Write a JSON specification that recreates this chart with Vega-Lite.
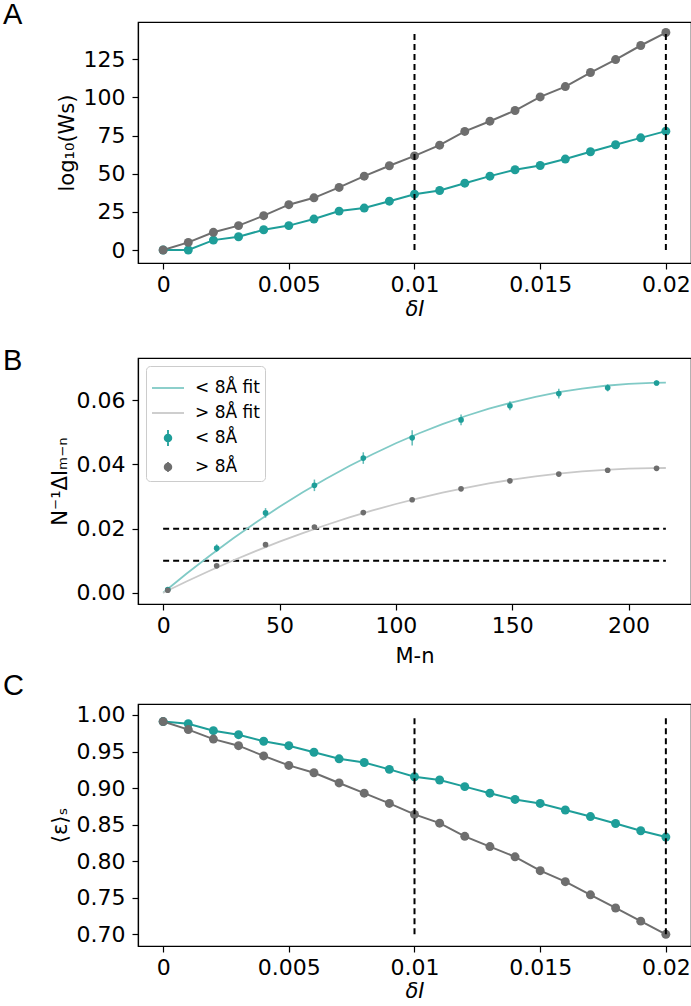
{
  "$schema": "https://vega.github.io/schema/vega-lite/v6.json",
  "background": "white",
  "padding": {"left": 2, "top": 0, "right": 0, "bottom": 0},
  "config": {
    "font": "DejaVu Sans",
    "view": {"stroke": "black", "strokeWidth": 1.2},
    "axis": {"grid": false, "labelFontSize": 22, "titleFontSize": 21, "titleFontWeight": "normal", "labelColor": "black", "titleColor": "black", "tickColor": "black", "domainColor": "black", "tickSize": 6, "tickWidth": 1.2, "domainWidth": 1.2, "titlePadding": 6},
    "axisX": {"labelPadding": 5},
    "axisY": {"labelPadding": 7},
    "title": {"fontSize": 29, "font": "Liberation Sans", "fontWeight": "normal", "anchor": "start", "frame": "group", "color": "black"}
  },
  "resolve": {
    "scale": {"color": "independent", "stroke": "independent", "shape": "independent"},
    "legend": {"color": "independent", "stroke": "independent", "shape": "independent"}
  },
  "datasets": {
    "A": [
      {"grp": "< 8Å", "dI": 0.000, "v": 0}, {"grp": "< 8Å", "dI": 0.001, "v": 0}, {"grp": "< 8Å", "dI": 0.002, "v": 6.5}, {"grp": "< 8Å", "dI": 0.003, "v": 8.7}, {"grp": "< 8Å", "dI": 0.004, "v": 13.3}, {"grp": "< 8Å", "dI": 0.005, "v": 16}, {"grp": "< 8Å", "dI": 0.006, "v": 20.3}, {"grp": "< 8Å", "dI": 0.007, "v": 25.5}, {"grp": "< 8Å", "dI": 0.008, "v": 27.5}, {"grp": "< 8Å", "dI": 0.009, "v": 32}, {"grp": "< 8Å", "dI": 0.010, "v": 36.6}, {"grp": "< 8Å", "dI": 0.011, "v": 39}, {"grp": "< 8Å", "dI": 0.012, "v": 43.8}, {"grp": "< 8Å", "dI": 0.013, "v": 48.4}, {"grp": "< 8Å", "dI": 0.014, "v": 52.6}, {"grp": "< 8Å", "dI": 0.015, "v": 55.4}, {"grp": "< 8Å", "dI": 0.016, "v": 59.6}, {"grp": "< 8Å", "dI": 0.017, "v": 64.4}, {"grp": "< 8Å", "dI": 0.018, "v": 69}, {"grp": "< 8Å", "dI": 0.019, "v": 73.5}, {"grp": "< 8Å", "dI": 0.020, "v": 77.9},
      {"grp": "> 8Å", "dI": 0.000, "v": 0}, {"grp": "> 8Å", "dI": 0.001, "v": 5}, {"grp": "> 8Å", "dI": 0.002, "v": 11.6}, {"grp": "> 8Å", "dI": 0.003, "v": 16}, {"grp": "> 8Å", "dI": 0.004, "v": 22.5}, {"grp": "> 8Å", "dI": 0.005, "v": 29.7}, {"grp": "> 8Å", "dI": 0.006, "v": 34.2}, {"grp": "> 8Å", "dI": 0.007, "v": 41}, {"grp": "> 8Å", "dI": 0.008, "v": 48.4}, {"grp": "> 8Å", "dI": 0.009, "v": 55.2}, {"grp": "> 8Å", "dI": 0.010, "v": 61.7}, {"grp": "> 8Å", "dI": 0.011, "v": 68.7}, {"grp": "> 8Å", "dI": 0.012, "v": 77.7}, {"grp": "> 8Å", "dI": 0.013, "v": 84.4}, {"grp": "> 8Å", "dI": 0.014, "v": 91.4}, {"grp": "> 8Å", "dI": 0.015, "v": 100.3}, {"grp": "> 8Å", "dI": 0.016, "v": 107.1}, {"grp": "> 8Å", "dI": 0.017, "v": 116.3}, {"grp": "> 8Å", "dI": 0.018, "v": 124.8}, {"grp": "> 8Å", "dI": 0.019, "v": 134}, {"grp": "> 8Å", "dI": 0.020, "v": 142.5}
    ],
    "A_dash": [{"dI": 0.01, "lo": 0, "hi": 142.5}, {"dI": 0.02, "lo": 0, "hi": 142.5}],
    "C": [
      {"grp": "< 8Å", "dI": 0.000, "v": 0.991}, {"grp": "< 8Å", "dI": 0.001, "v": 0.988}, {"grp": "< 8Å", "dI": 0.002, "v": 0.9785}, {"grp": "< 8Å", "dI": 0.003, "v": 0.973}, {"grp": "< 8Å", "dI": 0.004, "v": 0.964}, {"grp": "< 8Å", "dI": 0.005, "v": 0.958}, {"grp": "< 8Å", "dI": 0.006, "v": 0.949}, {"grp": "< 8Å", "dI": 0.007, "v": 0.94}, {"grp": "< 8Å", "dI": 0.008, "v": 0.935}, {"grp": "< 8Å", "dI": 0.009, "v": 0.9256}, {"grp": "< 8Å", "dI": 0.010, "v": 0.9155}, {"grp": "< 8Å", "dI": 0.011, "v": 0.911}, {"grp": "< 8Å", "dI": 0.012, "v": 0.902}, {"grp": "< 8Å", "dI": 0.013, "v": 0.893}, {"grp": "< 8Å", "dI": 0.014, "v": 0.8845}, {"grp": "< 8Å", "dI": 0.015, "v": 0.879}, {"grp": "< 8Å", "dI": 0.016, "v": 0.87}, {"grp": "< 8Å", "dI": 0.017, "v": 0.861}, {"grp": "< 8Å", "dI": 0.018, "v": 0.8516}, {"grp": "< 8Å", "dI": 0.019, "v": 0.8416}, {"grp": "< 8Å", "dI": 0.020, "v": 0.833},
      {"grp": "> 8Å", "dI": 0.000, "v": 0.991}, {"grp": "> 8Å", "dI": 0.001, "v": 0.98}, {"grp": "> 8Å", "dI": 0.002, "v": 0.967}, {"grp": "> 8Å", "dI": 0.003, "v": 0.958}, {"grp": "> 8Å", "dI": 0.004, "v": 0.944}, {"grp": "> 8Å", "dI": 0.005, "v": 0.931}, {"grp": "> 8Å", "dI": 0.006, "v": 0.921}, {"grp": "> 8Å", "dI": 0.007, "v": 0.907}, {"grp": "> 8Å", "dI": 0.008, "v": 0.893}, {"grp": "> 8Å", "dI": 0.009, "v": 0.879}, {"grp": "> 8Å", "dI": 0.010, "v": 0.864}, {"grp": "> 8Å", "dI": 0.011, "v": 0.852}, {"grp": "> 8Å", "dI": 0.012, "v": 0.834}, {"grp": "> 8Å", "dI": 0.013, "v": 0.82}, {"grp": "> 8Å", "dI": 0.014, "v": 0.806}, {"grp": "> 8Å", "dI": 0.015, "v": 0.787}, {"grp": "> 8Å", "dI": 0.016, "v": 0.772}, {"grp": "> 8Å", "dI": 0.017, "v": 0.754}, {"grp": "> 8Å", "dI": 0.018, "v": 0.736}, {"grp": "> 8Å", "dI": 0.019, "v": 0.718}, {"grp": "> 8Å", "dI": 0.020, "v": 0.7}
    ],
    "C_dash": [{"dI": 0.01, "lo": 0.7, "hi": 1.0}, {"dI": 0.02, "lo": 0.7, "hi": 1.0}],
    "B_pts": [
      {"series": "< 8Å", "M": 2, "v": 0.001, "lo": 0.0004, "hi": 0.0016},
      {"series": "< 8Å", "M": 23, "v": 0.0139, "lo": 0.0127, "hi": 0.0151},
      {"series": "< 8Å", "M": 44, "v": 0.0249, "lo": 0.0234, "hi": 0.0264},
      {"series": "< 8Å", "M": 65, "v": 0.0335, "lo": 0.0317, "hi": 0.0353},
      {"series": "< 8Å", "M": 86, "v": 0.042, "lo": 0.0402, "hi": 0.0438},
      {"series": "< 8Å", "M": 107, "v": 0.0483, "lo": 0.0459, "hi": 0.0507},
      {"series": "< 8Å", "M": 128, "v": 0.0539, "lo": 0.0522, "hi": 0.0556},
      {"series": "< 8Å", "M": 149, "v": 0.0583, "lo": 0.0569, "hi": 0.0597},
      {"series": "< 8Å", "M": 170, "v": 0.0621, "lo": 0.0606, "hi": 0.0636},
      {"series": "< 8Å", "M": 191, "v": 0.0639, "lo": 0.0628, "hi": 0.065},
      {"series": "< 8Å", "M": 212, "v": 0.0654, "lo": 0.0646, "hi": 0.0662},
      {"series": "> 8Å", "M": 2, "v": 0.0008, "lo": 0.0004, "hi": 0.0012},
      {"series": "> 8Å", "M": 23, "v": 0.0084, "lo": 0.0079, "hi": 0.0089},
      {"series": "> 8Å", "M": 44, "v": 0.015, "lo": 0.0145, "hi": 0.0155},
      {"series": "> 8Å", "M": 65, "v": 0.0205, "lo": 0.0199, "hi": 0.0211},
      {"series": "> 8Å", "M": 86, "v": 0.025, "lo": 0.0244, "hi": 0.0256},
      {"series": "> 8Å", "M": 107, "v": 0.029, "lo": 0.0284, "hi": 0.0296},
      {"series": "> 8Å", "M": 128, "v": 0.0324, "lo": 0.0319, "hi": 0.0329},
      {"series": "> 8Å", "M": 149, "v": 0.0349, "lo": 0.0344, "hi": 0.0354},
      {"series": "> 8Å", "M": 170, "v": 0.037, "lo": 0.0365, "hi": 0.0375},
      {"series": "> 8Å", "M": 191, "v": 0.0382, "lo": 0.0378, "hi": 0.0386},
      {"series": "> 8Å", "M": 212, "v": 0.0388, "lo": 0.0384, "hi": 0.0392}
    ],
    "B_fit": [
      {"series": "< 8Å fit", "M": 0, "v": 0}, {"series": "< 8Å fit", "M": 10, "v": 0.00593}, {"series": "< 8Å fit", "M": 20, "v": 0.01157}, {"series": "< 8Å fit", "M": 30, "v": 0.01693}, {"series": "< 8Å fit", "M": 40, "v": 0.02201}, {"series": "< 8Å fit", "M": 50, "v": 0.02682}, {"series": "< 8Å fit", "M": 60, "v": 0.03134}, {"series": "< 8Å fit", "M": 70, "v": 0.03558}, {"series": "< 8Å fit", "M": 80, "v": 0.03954}, {"series": "< 8Å fit", "M": 90, "v": 0.04321}, {"series": "< 8Å fit", "M": 100, "v": 0.04661}, {"series": "< 8Å fit", "M": 110, "v": 0.04973}, {"series": "< 8Å fit", "M": 120, "v": 0.05256}, {"series": "< 8Å fit", "M": 130, "v": 0.05512}, {"series": "< 8Å fit", "M": 140, "v": 0.05739}, {"series": "< 8Å fit", "M": 150, "v": 0.05938}, {"series": "< 8Å fit", "M": 160, "v": 0.0611}, {"series": "< 8Å fit", "M": 170, "v": 0.06253}, {"series": "< 8Å fit", "M": 180, "v": 0.06368}, {"series": "< 8Å fit", "M": 190, "v": 0.06455}, {"series": "< 8Å fit", "M": 200, "v": 0.06514}, {"series": "< 8Å fit", "M": 210, "v": 0.06545}, {"series": "< 8Å fit", "M": 216, "v": 0.0655},
      {"series": "> 8Å fit", "M": 0, "v": 0}, {"series": "> 8Å fit", "M": 10, "v": 0.00352}, {"series": "> 8Å fit", "M": 20, "v": 0.00687}, {"series": "> 8Å fit", "M": 30, "v": 0.01006}, {"series": "> 8Å fit", "M": 40, "v": 0.01307}, {"series": "> 8Å fit", "M": 50, "v": 0.01593}, {"series": "> 8Å fit", "M": 60, "v": 0.01861}, {"series": "> 8Å fit", "M": 70, "v": 0.02113}, {"series": "> 8Å fit", "M": 80, "v": 0.02348}, {"series": "> 8Å fit", "M": 90, "v": 0.02566}, {"series": "> 8Å fit", "M": 100, "v": 0.02768}, {"series": "> 8Å fit", "M": 110, "v": 0.02953}, {"series": "> 8Å fit", "M": 120, "v": 0.03122}, {"series": "> 8Å fit", "M": 130, "v": 0.03273}, {"series": "> 8Å fit", "M": 140, "v": 0.03408}, {"series": "> 8Å fit", "M": 150, "v": 0.03527}, {"series": "> 8Å fit", "M": 160, "v": 0.03629}, {"series": "> 8Å fit", "M": 170, "v": 0.03713}, {"series": "> 8Å fit", "M": 180, "v": 0.03782}, {"series": "> 8Å fit", "M": 190, "v": 0.03834}, {"series": "> 8Å fit", "M": 200, "v": 0.03869}, {"series": "> 8Å fit", "M": 210, "v": 0.03887}, {"series": "> 8Å fit", "M": 216, "v": 0.0389}
    ],
    "B_dash": [{"yv": 0.02, "M0": 0, "M1": 216}, {"yv": 0.01, "M0": 0, "M1": 216}],
    "B_legend": [
      {"series": "< 8Å fit", "M": -1000, "v": 0.03},
      {"series": "> 8Å fit", "M": -1000, "v": 0.03},
      {"series": "< 8Å", "M": -1000, "v": 0.03},
      {"series": "> 8Å", "M": -1000, "v": 0.03}
    ]
  },
  "columns": 1,
  "spacing": 4,
  "concat": [
    {
      "width": 553, "height": 241,
      "title": {"text": "A", "dx": -135, "offset": -8},
      "layer": [
        {
          "data": {"name": "A"},
          "mark": {"type": "line", "strokeWidth": 2},
          "encoding": {
            "x": {"field": "dI", "type": "quantitative", "scale": {"domain": [-0.001, 0.021], "nice": false, "zero": false}, "axis": {"values": [0, 0.005, 0.01, 0.015, 0.02], "format": "~g", "title": ["δI", " "], "titleLineHeight": 22, "titleFontStyle": "italic", "titlePadding": 3}},
            "y": {"field": "v", "type": "quantitative", "scale": {"domain": [-8.5, 149.4], "nice": false, "zero": false}, "axis": {"values": [0, 25, 50, 75, 100, 125], "title": "log₁₀(Ws)"}},
            "color": {"field": "grp", "type": "nominal", "scale": {"domain": ["< 8Å", "> 8Å"], "range": ["#1e9e99", "#6e6e6e"]}, "legend": null}
          }
        },
        {
          "data": {"name": "A"},
          "mark": {"type": "point", "filled": true, "size": 80, "opacity": 1},
          "encoding": {
            "x": {"field": "dI", "type": "quantitative"},
            "y": {"field": "v", "type": "quantitative"},
            "color": {"field": "grp", "type": "nominal", "scale": {"domain": ["< 8Å", "> 8Å"], "range": ["#1e9e99", "#6e6e6e"]}, "legend": null}
          }
        },
        {
          "data": {"name": "A_dash"},
          "mark": {"type": "rule", "color": "black", "strokeWidth": 2, "strokeDash": [6, 4]},
          "encoding": {
            "x": {"field": "dI", "type": "quantitative"},
            "y": {"field": "lo", "type": "quantitative"},
            "y2": {"field": "hi"}
          }
        }
      ]
    },
    {
      "width": 553, "height": 246,
      "title": {"text": "B", "dx": -135, "offset": -18},
      "layer": [
        {
          "data": {"name": "B_dash"},
          "mark": {"type": "rule", "color": "black", "strokeWidth": 2, "strokeDash": [6, 4]},
          "encoding": {
            "y": {"field": "yv", "type": "quantitative", "scale": {"domain": [-0.0035, 0.0732], "nice": false, "zero": false}, "axis": {"values": [0, 0.02, 0.04, 0.06], "format": ".2f", "title": "N⁻¹ΔIₘ₋ₙ"}},
            "x": {"field": "M0", "type": "quantitative", "scale": {"domain": [-10.8, 226.8], "nice": false, "zero": false}, "axis": {"values": [0, 50, 100, 150, 200], "title": "M-n", "titlePadding": 9}},
            "x2": {"field": "M1"}
          }
        },
        {
          "data": {"name": "B_fit"},
          "transform": [{"filter": "datum.series === '< 8Å fit'"}],
          "mark": {"type": "line", "strokeWidth": 1.8, "color": "#80cac6"},
          "encoding": {"x": {"field": "M", "type": "quantitative"}, "y": {"field": "v", "type": "quantitative"}}
        },
        {
          "data": {"name": "B_fit"},
          "transform": [{"filter": "datum.series === '> 8Å fit'"}],
          "mark": {"type": "line", "strokeWidth": 1.8, "color": "#c9c9c9"},
          "encoding": {"x": {"field": "M", "type": "quantitative"}, "y": {"field": "v", "type": "quantitative"}}
        },
        {
          "data": {"name": "B_pts"},
          "transform": [{"filter": "datum.series === '< 8Å'"}],
          "mark": {"type": "rule", "strokeWidth": 1.5, "color": "#1e9e99", "opacity": 0.7},
          "encoding": {"x": {"field": "M", "type": "quantitative"}, "y": {"field": "lo", "type": "quantitative"}, "y2": {"field": "hi"}}
        },
        {
          "data": {"name": "B_pts"},
          "transform": [{"filter": "datum.series === '> 8Å'"}],
          "mark": {"type": "rule", "strokeWidth": 1.5, "color": "#6e6e6e", "opacity": 0.6},
          "encoding": {"x": {"field": "M", "type": "quantitative"}, "y": {"field": "lo", "type": "quantitative"}, "y2": {"field": "hi"}}
        },
        {
          "data": {"name": "B_pts"},
          "transform": [{"filter": "datum.series === '< 8Å'"}],
          "mark": {"type": "point", "filled": true, "size": 32, "opacity": 1, "color": "#1e9e99"},
          "encoding": {"x": {"field": "M", "type": "quantitative"}, "y": {"field": "v", "type": "quantitative"}}
        },
        {
          "data": {"name": "B_pts"},
          "transform": [{"filter": "datum.series === '> 8Å'"}],
          "mark": {"type": "point", "filled": true, "size": 32, "opacity": 1, "color": "#6e6e6e"},
          "encoding": {"x": {"field": "M", "type": "quantitative"}, "y": {"field": "v", "type": "quantitative"}}
        },
        {
          "data": {"name": "B_legend"},
          "mark": {"type": "point", "filled": true, "opacity": 1, "clip": true, "strokeWidth": 1.8},
          "encoding": {
            "x": {"field": "M", "type": "quantitative"},
            "y": {"field": "v", "type": "quantitative"},
            "color": {"field": "series", "type": "nominal", "scale": {"domain": ["< 8Å fit", "> 8Å fit", "< 8Å", "> 8Å"], "range": ["#80cac6", "#c9c9c9", "#1e9e99", "#6e6e6e"]},
              "legend": {"title": null, "orient": "top-left", "offset": 8, "symbolSize": 1024, "symbolStrokeWidth": 1.8, "labelFontSize": 17, "labelColor": "black", "rowPadding": -14, "padding": 5, "strokeColor": "#cccccc", "fillColor": "white", "cornerRadius": 4, "labelOffset": 10}},
            "stroke": {"field": "series", "type": "nominal", "scale": {"domain": ["< 8Å fit", "> 8Å fit", "< 8Å", "> 8Å"], "range": ["#80cac6", "#c9c9c9", "#1e9e99", "#6e6e6e"]},
              "legend": {"title": null, "orient": "top-left", "offset": 8, "symbolSize": 1024, "symbolStrokeWidth": 1.8, "labelFontSize": 17, "labelColor": "black", "rowPadding": -14, "padding": 5, "strokeColor": "#cccccc", "fillColor": "white", "cornerRadius": 4, "labelOffset": 10}},
            "shape": {"field": "series", "type": "nominal", "scale": {"domain": ["< 8Å fit", "> 8Å fit", "< 8Å", "> 8Å"], "range": ["M-1,0H1", "M-1,0H1", "M0,-0.5V0.5M0.21,0A0.21,0.21,0,1,1,-0.21,0A0.21,0.21,0,1,1,0.21,0", "M0,-0.32V0.32M0.21,0A0.21,0.21,0,1,1,-0.21,0A0.21,0.21,0,1,1,0.21,0"]},
              "legend": {"title": null, "orient": "top-left", "offset": 8, "symbolSize": 1024, "symbolStrokeWidth": 1.8, "labelFontSize": 17, "labelColor": "black", "rowPadding": -14, "padding": 5, "strokeColor": "#cccccc", "fillColor": "white", "cornerRadius": 4, "labelOffset": 10}}
          }
        }
      ]
    },
    {
      "width": 553, "height": 242,
      "title": {"text": "C", "dx": -135, "offset": 3},
      "layer": [
        {
          "data": {"name": "C"},
          "mark": {"type": "line", "strokeWidth": 2},
          "encoding": {
            "x": {"field": "dI", "type": "quantitative", "scale": {"domain": [-0.001, 0.021], "nice": false, "zero": false}, "axis": {"values": [0, 0.005, 0.01, 0.015, 0.02], "format": "~g", "title": "δI", "titleFontStyle": "italic", "titlePadding": 2}},
            "y": {"field": "v", "type": "quantitative", "scale": {"domain": [0.684, 1.015], "nice": false, "zero": false}, "axis": {"values": [0.7, 0.75, 0.8, 0.85, 0.9, 0.95, 1.0], "format": ".2f", "title": "⟨ε⟩ₛ"}},
            "color": {"field": "grp", "type": "nominal", "scale": {"domain": ["< 8Å", "> 8Å"], "range": ["#1e9e99", "#6e6e6e"]}, "legend": null}
          }
        },
        {
          "data": {"name": "C"},
          "mark": {"type": "point", "filled": true, "size": 80, "opacity": 1},
          "encoding": {
            "x": {"field": "dI", "type": "quantitative"},
            "y": {"field": "v", "type": "quantitative"},
            "color": {"field": "grp", "type": "nominal", "scale": {"domain": ["< 8Å", "> 8Å"], "range": ["#1e9e99", "#6e6e6e"]}, "legend": null}
          }
        },
        {
          "data": {"name": "C_dash"},
          "mark": {"type": "rule", "color": "black", "strokeWidth": 2, "strokeDash": [6, 4]},
          "encoding": {
            "x": {"field": "dI", "type": "quantitative"},
            "y": {"field": "lo", "type": "quantitative"},
            "y2": {"field": "hi"}
          }
        }
      ]
    }
  ]
}
